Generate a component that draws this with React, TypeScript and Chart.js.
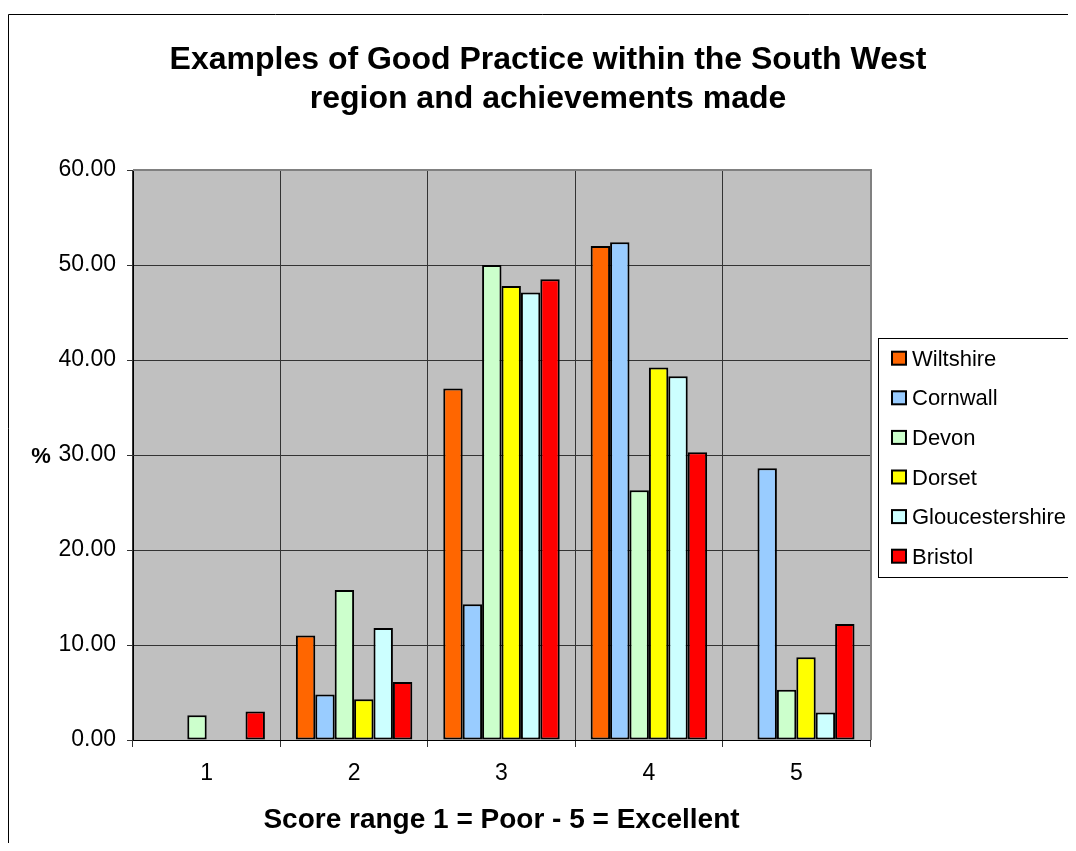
import React, { useEffect, useRef } from "react";
import { Chart, registerables } from "chart.js";

Chart.register(...registerables);

const categories = ["1", "2", "3", "4", "5"];
const seriesNames = ["Wiltshire", "Cornwall", "Devon", "Dorset", "Gloucestershire", "Bristol"];
const wiltshire = [0, 11.0, 37.0, 52.0, 0];
const cornwall = [0, 4.8, 14.3, 52.4, 28.6];
const devon = [2.6, 15.8, 50.0, 26.3, 5.3];
const dorset = [0, 4.3, 47.8, 39.2, 8.7];
const gloucestershire = [0, 11.8, 47.1, 38.3, 2.9];
const bristol = [3.0, 6.1, 48.5, 30.3, 12.2];
const seriesColors = ["#FF6600", "#99CCFF", "#CCFFCC", "#FFFF00", "#CCFFFF", "#FF0000"];
const titleLines = ["Examples of Good Practice within the South West", "region and achievements made"];
const xTitle = "Score range 1 = Poor - 5 = Excellent";
const yTitle = "%";

const FONT = '"Liberation Sans", Arial, sans-serif';

const decorPlugin = {
  id: "decor",
  beforeDraw(chart: any) {
    const { ctx, chartArea } = chart;
    ctx.save();
    ctx.fillStyle = "#C0C0C0";
    ctx.fillRect(chartArea.left, chartArea.top, chartArea.right - chartArea.left, chartArea.bottom - chartArea.top);
    ctx.restore();
  },
  afterDatasetsDraw(chart: any) {
    const { ctx, chartArea } = chart;
    ctx.save();
    ctx.strokeStyle = "#808080";
    ctx.lineWidth = 2;
    ctx.beginPath();
    ctx.moveTo(chartArea.left, chartArea.top);
    ctx.lineTo(chartArea.right + 1, chartArea.top);
    ctx.lineTo(chartArea.right + 1, chartArea.bottom);
    ctx.stroke();
    ctx.restore();
  },
  afterDraw(chart: any) {
    const { ctx, chartArea } = chart;
    ctx.save();
    // outer chart frame (left and top edges visible)
    ctx.strokeStyle = "#000";
    ctx.lineWidth = 1;
    ctx.beginPath();
    ctx.moveTo(0.5, chart.height);
    ctx.lineTo(0.5, 6.5);
    ctx.lineTo(chart.width, 6.5);
    ctx.stroke();

    // title
    ctx.fillStyle = "#000";
    ctx.textAlign = "center";
    ctx.textBaseline = "alphabetic";
    ctx.font = `bold 32px ${FONT}`;
    ctx.fillText(titleLines[0], 540, 61);
    ctx.fillText(titleLines[1], 540, 100);

    // x title
    ctx.font = `bold 28px ${FONT}`;
    ctx.fillText(xTitle, (chartArea.left + chartArea.right) / 2, 820);

    // y title
    ctx.font = `bold 22px ${FONT}`;
    ctx.fillText(yTitle, 33, 455);

    // legend
    const lx = 870, ly = 330, lw = 197, lh = 239;
    ctx.fillStyle = "#fff";
    ctx.fillRect(lx, ly, lw, lh);
    ctx.strokeStyle = "#000";
    ctx.lineWidth = 1;
    ctx.strokeRect(lx + 0.5, ly + 0.5, lw, lh);
    ctx.textAlign = "left";
    ctx.font = `22px ${FONT}`;
    chart.data.datasets.forEach((ds: any, i: number) => {
      const base = 357.7 + i * 39.6;
      ctx.fillStyle = ds.backgroundColor;
      ctx.fillRect(884, base - 14, 14, 13);
      ctx.strokeStyle = "#000";
      ctx.lineWidth = 2;
      ctx.strokeRect(884, base - 14, 14, 13);
      ctx.fillStyle = "#000";
      ctx.fillText(ds.label, 904, base);
    });
    ctx.restore();
  },
};

export default function App() {
  const ref = useRef<HTMLCanvasElement | null>(null);
  useEffect(() => {
    document.documentElement.style.overflow = "hidden";
    document.body.style.overflow = "hidden";
    const allSeries = [wiltshire, cornwall, devon, dorset, gloucestershire, bristol];
    const chart = new Chart(ref.current as HTMLCanvasElement, {
      type: "bar",
      data: {
        labels: categories,
        datasets: allSeries.map((d, i) => ({
          label: seriesNames[i],
          data: d,
          backgroundColor: seriesColors[i],
          borderColor: "#000",
          borderWidth: 2,
          borderSkipped: false,
          categoryPercentage: 0.79,
          barPercentage: 1.0,
        })),
      },
      options: {
        animation: false,
        responsive: true,
        maintainAspectRatio: false,
        layout: { padding: { top: 162, right: 206, bottom: 0, left: 0 } },
        plugins: {
          legend: { display: false },
          title: { display: false },
          tooltip: { enabled: false },
        },
        scales: {
          x: {
            grid: { offset: true, color: "#333", lineWidth: 1, tickLength: 7 },
            border: { color: "#000", width: 1 },
            ticks: { color: "#000", font: { family: FONT, size: 23 }, padding: 13 },
            afterFit: (s: any) => {
              s.height = 103;
            },
          },
          y: {
            min: 0,
            max: 60,
            grid: { color: "#333", lineWidth: 1, tickLength: 6 },
            border: { color: "#000", width: 1 },
            ticks: {
              stepSize: 10,
              color: "#000",
              font: { family: FONT, size: 23 },
              padding: 11,
              callback: (v: any) => Number(v).toFixed(2),
            },
            afterFit: (s: any) => {
              s.width = 125;
            },
          },
        },
      },
      plugins: [decorPlugin],
    });
    return () => chart.destroy();
  }, []);
  return (
    <div style={{ position: "relative", width: 1068, height: 835 }}>
      <canvas ref={ref} />
    </div>
  );
}
